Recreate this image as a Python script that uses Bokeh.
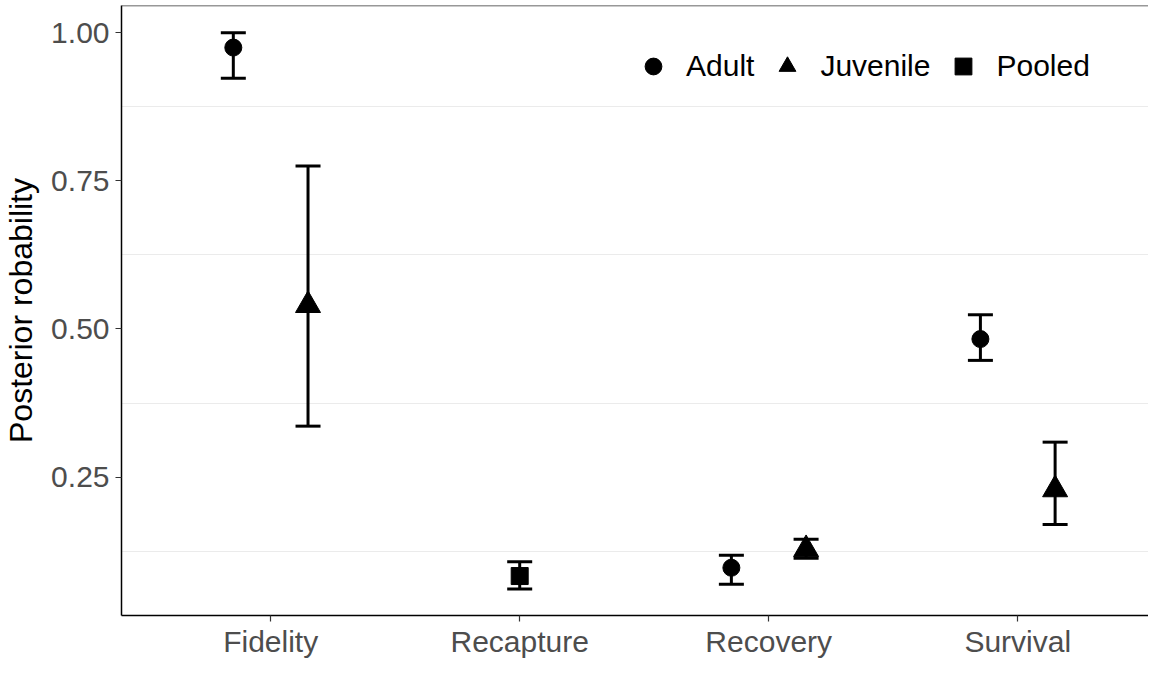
from bokeh.plotting import figure
from bokeh.models import (FixedTicker, Whisker, TeeHead, ColumnDataSource, Span,
                          Legend, LegendItem)
from bokeh.embed import file_html
from bokeh.resources import INLINE

# ---- data ----
categories = ["Fidelity", "Recapture", "Recovery", "Survival"]

adult_cat = ["Fidelity", "Recovery", "Survival"]
adult_mean = [0.975, 0.097, 0.483]
adult_lo = [0.923, 0.069, 0.447]
adult_hi = [1.000, 0.118, 0.524]

juv_cat = ["Fidelity", "Recovery", "Survival"]
juv_mean = [0.540, 0.128, 0.229]
juv_lo = [0.336, 0.113, 0.170]
juv_hi = [0.775, 0.145, 0.309]

pooled_cat = ["Recapture"]
pooled_mean = [0.083]
pooled_lo = [0.061]
pooled_hi = [0.107]

y_ticks = [0.25, 0.50, 0.75, 1.00]
y_tick_labels = ["0.25", "0.50", "0.75", "1.00"]
grid_ticks = [0.125, 0.375, 0.625, 0.875]

dodge_width = 0.3
FONT = "Liberation Sans"
Y_TOP = 1.046
Y_BOT = 0.0164

p = figure(width=1148, height=660, x_range=(0.401, 4.525), y_range=(Y_BOT, Y_TOP),
           output_backend="svg", toolbar_location=None,
           min_border_left=120, min_border_right=0, min_border_top=5, min_border_bottom=44)
p.outline_line_color = None
p.background_fill_color = "white"

# grid: only minor positions visible
p.xgrid.visible = False
p.ygrid.ticker = FixedTicker(ticks=grid_ticks)
p.ygrid.grid_line_color = "#ebebeb"
p.ygrid.grid_line_width = 1.2

# axes
p.xaxis.ticker = FixedTicker(ticks=[i + 1 for i in range(len(categories))])
p.xaxis.major_label_overrides = {i + 1: c for i, c in enumerate(categories)}
p.yaxis.ticker = FixedTicker(ticks=y_ticks)
p.yaxis.major_label_overrides = {t: l for t, l in zip(y_ticks, y_tick_labels)}
for ax in (p.xaxis, p.yaxis):
    ax.axis_line_color = "black"
    ax.axis_line_width = 1.5
    ax.major_tick_line_color = "#333333"
    ax.major_tick_line_width = 1.2
    ax.major_tick_out = 6
    ax.major_tick_in = 0
    ax.minor_tick_line_color = None
    ax.major_label_text_font = FONT
    ax.major_label_text_font_size = "30px"
    ax.major_label_text_color = "#4d4d4d"
    ax.axis_label_text_font = FONT
    ax.axis_label_text_font_size = "32px"
    ax.axis_label_text_font_style = "normal"
    ax.axis_label_text_color = "black"
p.xaxis.major_label_standoff = 3
p.yaxis.major_label_standoff = 6
p.yaxis.axis_label = "Posterior robability"
p.yaxis.axis_label_standoff = 9

# top border
p.add_layout(Span(location=Y_TOP, dimension="width", line_color="#333333", line_width=1.5))

def xpos(cats, off):
    return [categories.index(c) + 1 + off for c in cats]

series = [
    ("Adult", adult_cat, adult_mean, adult_lo, adult_hi, -dodge_width / 2, "circle", 17),
    ("Juvenile", juv_cat, juv_mean, juv_lo, juv_hi, dodge_width / 2, "triangle", 25),
    ("Pooled", pooled_cat, pooled_mean, pooled_lo, pooled_hi, 0.0, "square", 17),
]

items = []
for name, cats, mean, lo, hi, off, marker, size in series:
    src = ColumnDataSource(dict(x=xpos(cats, off), y=mean, lo=lo, hi=hi))
    w = Whisker(source=src, base="x", upper="hi", lower="lo", dimension="height",
                line_color="black", line_width=3,
                upper_head=TeeHead(size=25, line_width=3, line_color="black"),
                lower_head=TeeHead(size=25, line_width=3, line_color="black"))
    p.add_layout(w)
    r = p.scatter("x", "y", source=src, marker=marker, size=size,
                  fill_color="black", line_color="black")
    items.append(LegendItem(label=name, renderers=[r]))

legend = Legend(items=items, orientation="horizontal", location=(511, 528),
                label_text_font=FONT, label_text_font_size="30px", label_text_color="black",
                glyph_width=42, glyph_height=42, label_standoff=12, spacing=12,
                padding=0, margin=0, border_line_color=None, background_fill_alpha=0)
p.add_layout(legend)

open("out.html", "w").write(file_html(p, INLINE))
